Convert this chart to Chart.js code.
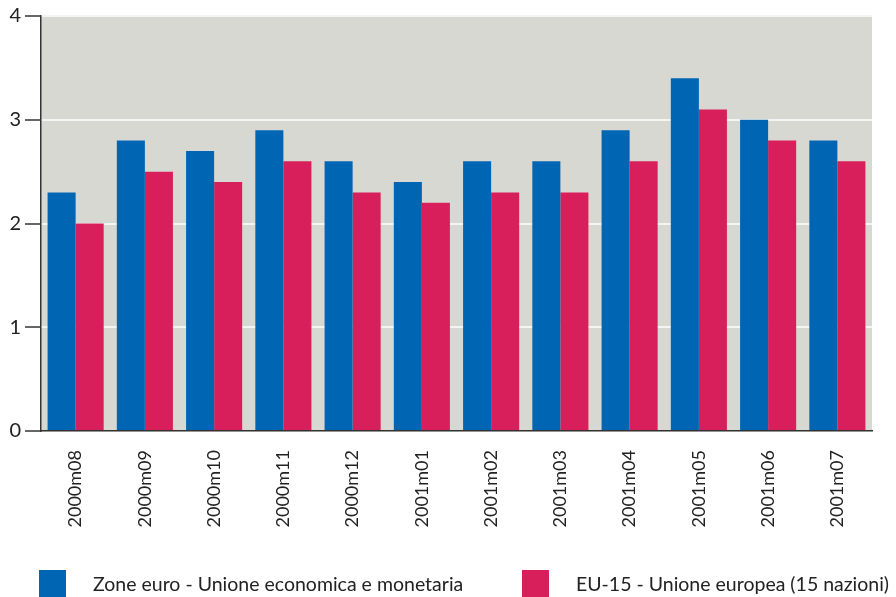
<!DOCTYPE html>
<html><head><meta charset="utf-8">
<script src="https://cdn.jsdelivr.net/npm/chart.js@4/dist/chart.umd.min.js"></script>
<style>
html,body{margin:0;padding:0;background:#fff;overflow:hidden;}
#wrap{position:relative;width:896px;height:597px;}
canvas{position:absolute;left:0;top:0;}
.leg{position:absolute;top:570px;height:27px;display:flex;align-items:center;font-family:Lato,"Open Sans",sans-serif;font-size:19.5px;color:#222;white-space:nowrap;}
.sw{width:27px;height:27px;margin-right:27px;flex:none;}
</style></head>
<body><div id="wrap"><canvas id="c" width="896" height="597"></canvas>
<div class="leg" style="left:39px"><div class="sw" style="background:#0066b3"></div><span id="l0"></span></div>
<div class="leg" style="left:522px"><div class="sw" style="background:#d91e5c"></div><span id="l1"></span></div>
</div>
<script>
const categories = ["2000m08","2000m09","2000m10","2000m11","2000m12","2001m01","2001m02","2001m03","2001m04","2001m05","2001m06","2001m07"];
const seriesNames = ["Zone euro - Unione economica e monetaria","EU-15 - Unione europea (15 nazioni)"];
const euroZone = [2.3,2.8,2.7,2.9,2.6,2.4,2.6,2.6,2.9,3.4,3.0,2.8];
const eu15 = [2.0,2.5,2.4,2.6,2.3,2.2,2.3,2.3,2.6,3.1,2.8,2.6];
const yTicks = [0,1,2,3,4];
const colors = ["#0066b3","#d91e5c"];

document.getElementById('l0').textContent = seriesNames[0];
document.getElementById('l1').textContent = seriesNames[1];

const bgPlugin = {
  id:'bg',
  beforeDraw(chart){
    const {ctx, chartArea:a} = chart;
    ctx.save(); ctx.fillStyle = '#d8d8d3';
    ctx.fillRect(a.left, a.top, a.right-a.left, a.bottom-a.top);
    ctx.restore();
  }
};
const font = "Lato, 'Open Sans', sans-serif";
new Chart(document.getElementById('c'), {
  type:'bar',
  data:{labels:categories, datasets:[
    {label:seriesNames[0], data:euroZone, backgroundColor:colors[0], borderWidth:0},
    {label:seriesNames[1], data:eu15, backgroundColor:colors[1], borderWidth:0}
  ]},
  options:{
    responsive:false, animation:false,
    layout:{padding:{left:0,top:16,right:24,bottom:0}},
    datasets:{bar:{categoryPercentage:0.81, barPercentage:1.0}},
    plugins:{legend:{display:false}, tooltip:{enabled:false}},
    scales:{
      x:{
        grid:{display:false, drawTicks:false},
        border:{color:'#333', width:1.5},
        ticks:{font:{family:font,size:18}, color:'#222', minRotation:90, maxRotation:90, padding:19, autoSkip:false},
        afterFit(s){ s.height = 166; }
      },
      y:{
        min:0, max:4,
        afterBuildTicks(s){ s.ticks = yTicks.map(v=>({value:v})); },
        grid:{color:'#f4f4f2', lineWidth:2, tickColor:'#333', tickLength:16, tickWidth:1.5},
        border:{color:'#333', width:1.5},
        ticks:{font:{family:font,size:20}, color:'#222', padding:4},
        afterFit(s){ s.width = 41; }
      }
    }
  },
  plugins:[bgPlugin]
});
</script></body></html>
